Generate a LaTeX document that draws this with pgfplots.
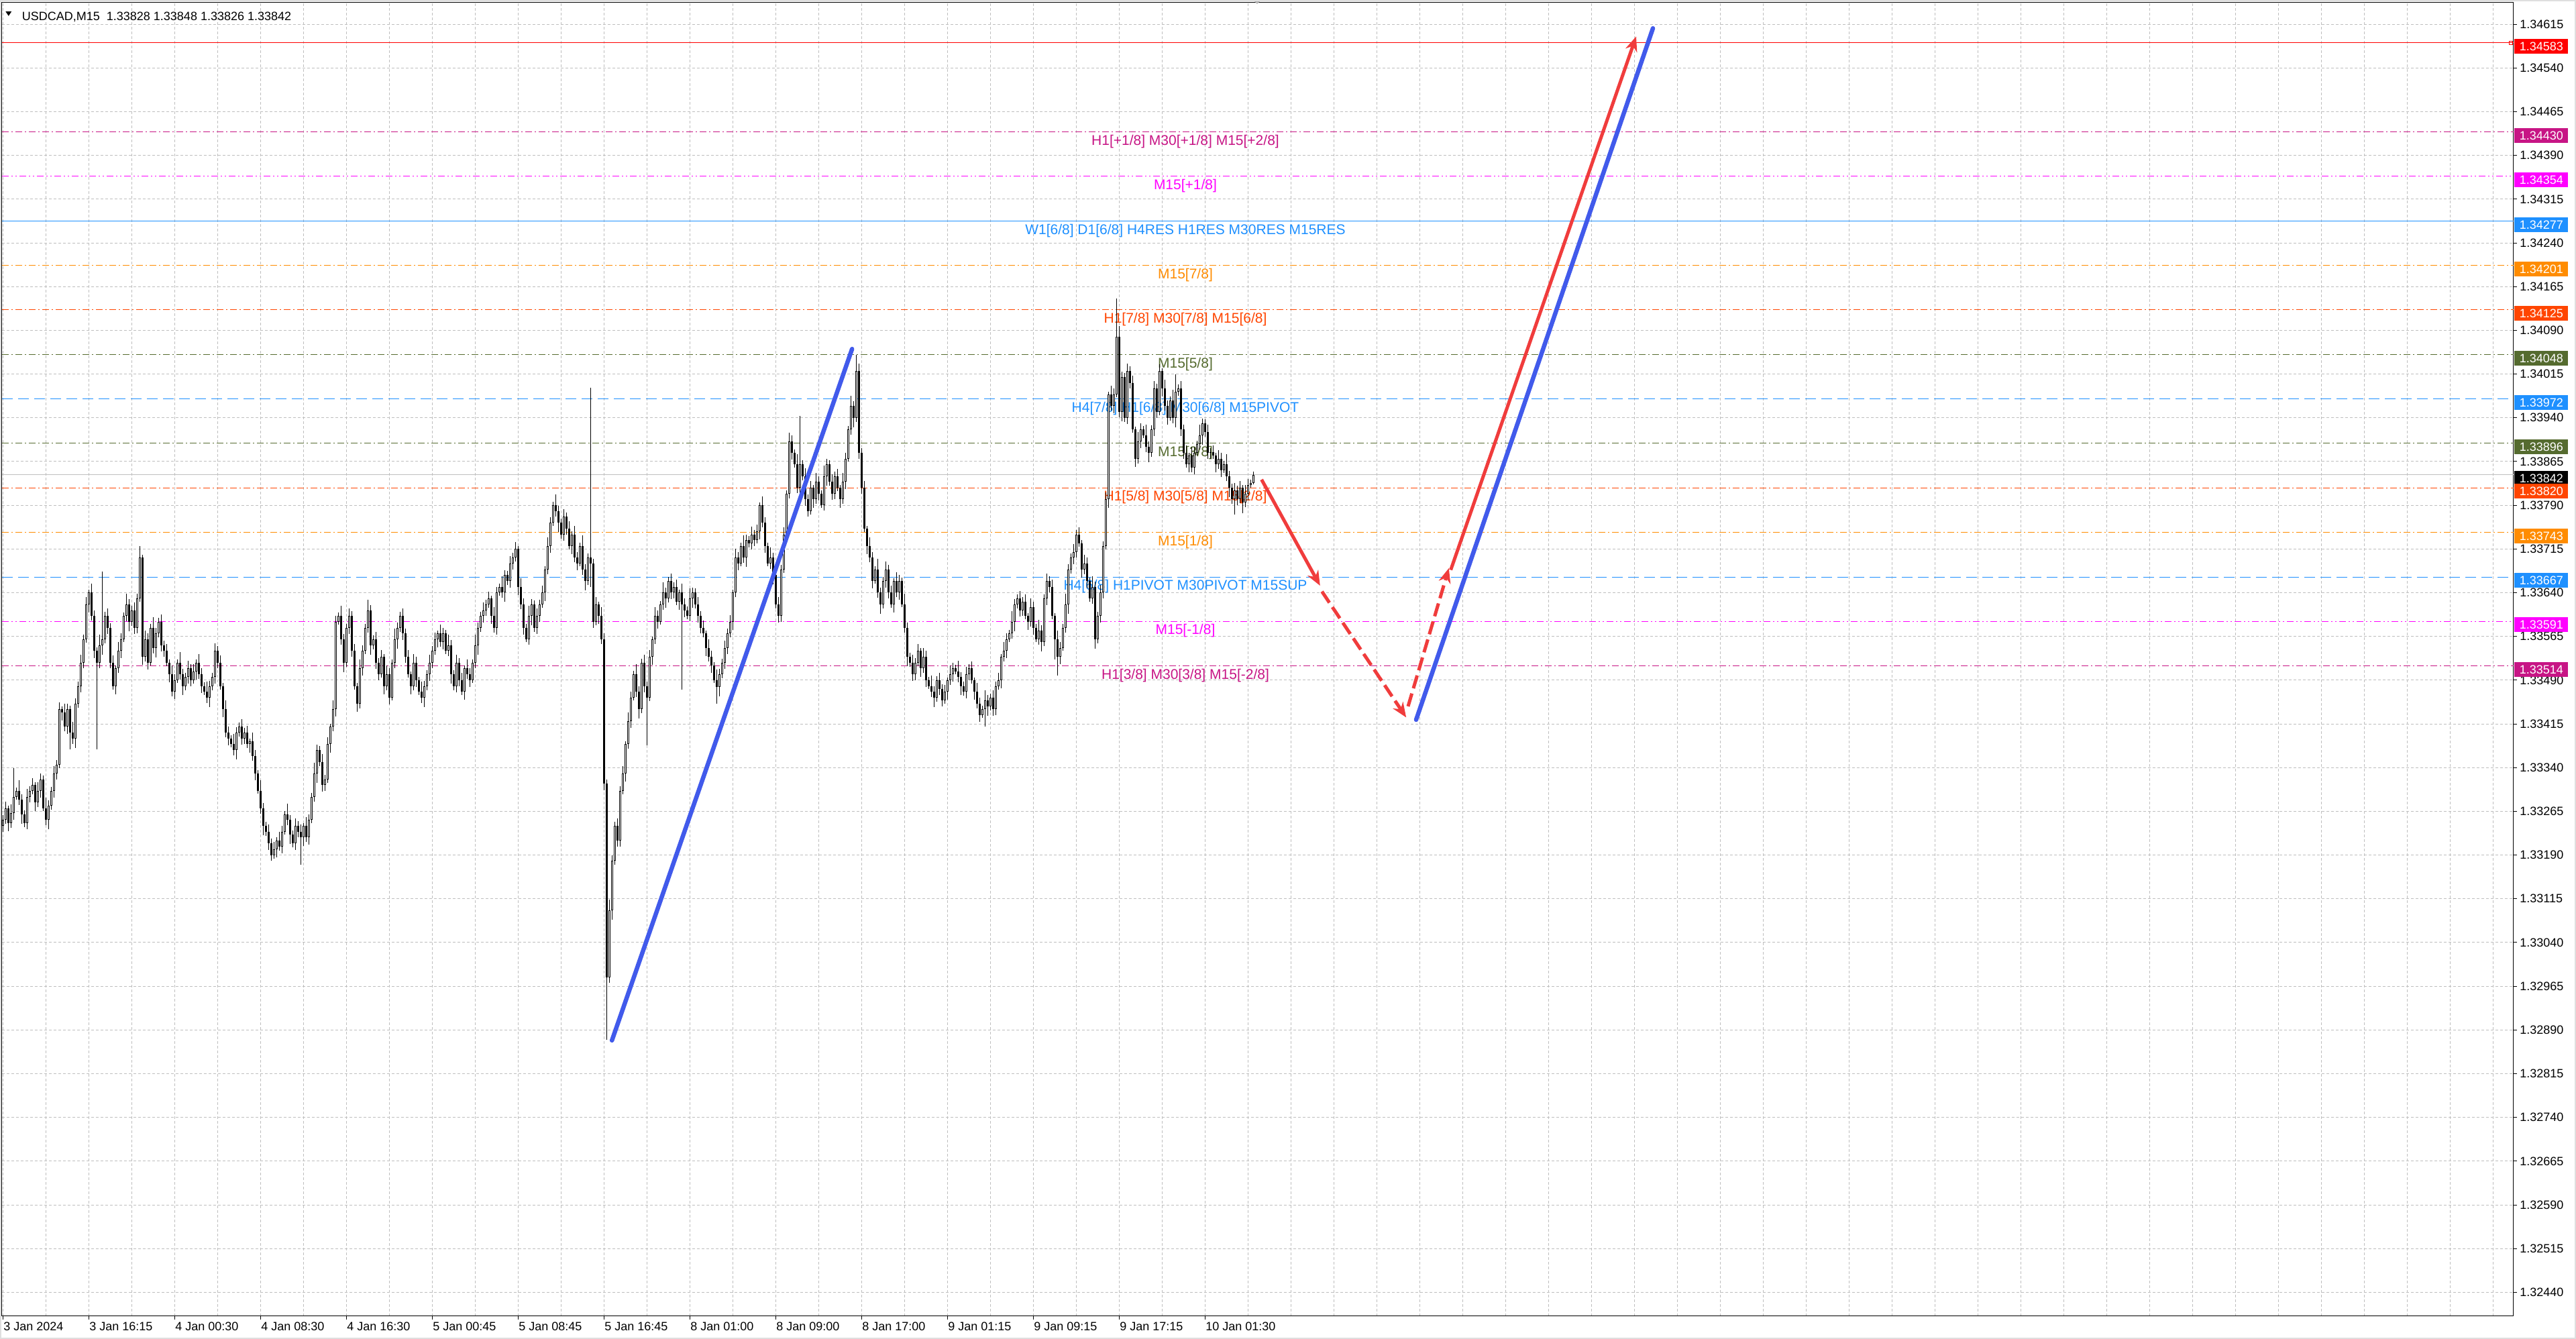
\documentclass[border=0pt]{standalone}
\usepackage{fontspec}
\setmainfont{Liberation Sans}
\usepackage{pgfplots}
\pgfplotsset{compat=1.18}
\usepackage{pgfplotstable}
\usetikzlibrary{arrows.meta}

\definecolor{lvRed}{RGB}{255,0,0}
\definecolor{lvViolet}{RGB}{199,21,133}
\definecolor{lvMagenta}{RGB}{255,0,255}
\definecolor{lvBlue}{RGB}{30,144,255}
\definecolor{lvOrange}{RGB}{255,140,0}
\definecolor{lvOrRed}{RGB}{255,69,0}
\definecolor{lvOlive}{RGB}{85,107,47}
\definecolor{gridgray}{RGB}{190,190,190}
\definecolor{curgray}{RGB}{192,192,192}
\definecolor{arrowRed}{RGB}{240,60,60}
\definecolor{arrowBlue}{RGB}{65,90,235}

% M15 bars: index, open, high, low, close
\pgfplotstableread{
i o h l c
0 1.33240 1.33258 1.33230 1.33250
1 1.33250 1.33282 1.33244 1.33270
2 1.33270 1.33275 1.33231 1.33245
3 1.33245 1.33277 1.33237 1.33262
4 1.33262 1.33339 1.33250 1.33290
5 1.33290 1.33306 1.33285 1.33300
6 1.33300 1.33318 1.33276 1.33285
7 1.33285 1.33294 1.33244 1.33260
8 1.33260 1.33267 1.33238 1.33245
9 1.33245 1.33303 1.33234 1.33290
10 1.33290 1.33308 1.33280 1.33300
11 1.33300 1.33322 1.33294 1.33310
12 1.33310 1.33315 1.33266 1.33280
13 1.33280 1.33315 1.33272 1.33300
14 1.33300 1.33330 1.33288 1.33320
15 1.33320 1.33326 1.33265 1.33270
16 1.33270 1.33288 1.33241 1.33250
17 1.33250 1.33284 1.33234 1.33275
18 1.33275 1.33307 1.33268 1.33300
19 1.33300 1.33343 1.33289 1.33330
20 1.33330 1.33353 1.33320 1.33345
21 1.33345 1.33452 1.33339 1.33440
22 1.33440 1.33445 1.33421 1.33435
23 1.33435 1.33450 1.33402 1.33410
24 1.33410 1.33450 1.33398 1.33440
25 1.33440 1.33446 1.33371 1.33400
26 1.33400 1.33418 1.33381 1.33390
27 1.33390 1.33459 1.33374 1.33450
28 1.33450 1.33487 1.33443 1.33480
29 1.33480 1.33533 1.33469 1.33520
30 1.33520 1.33568 1.33510 1.33560
31 1.33560 1.33632 1.33554 1.33620
32 1.33620 1.33645 1.33606 1.33640
33 1.33640 1.33655 1.33592 1.33600
34 1.33600 1.33610 1.33528 1.33540
35 1.33540 1.33546 1.33371 1.33520
36 1.33520 1.33568 1.33511 1.33550
37 1.33550 1.33676 1.33534 1.33560
38 1.33560 1.33607 1.33553 1.33600
39 1.33600 1.33613 1.33569 1.33580
40 1.33580 1.33588 1.33510 1.33520
41 1.33520 1.33532 1.33474 1.33480
42 1.33480 1.33515 1.33466 1.33510
43 1.33510 1.33555 1.33502 1.33540
44 1.33540 1.33570 1.33528 1.33560
45 1.33560 1.33606 1.33555 1.33600
46 1.33600 1.33638 1.33591 1.33620
47 1.33620 1.33629 1.33574 1.33590
48 1.33590 1.33617 1.33583 1.33610
49 1.33610 1.33623 1.33569 1.33580
50 1.33580 1.33638 1.33570 1.33630
51 1.33630 1.33720 1.33624 1.33700
52 1.33700 1.33705 1.33516 1.33530
53 1.33530 1.33575 1.33522 1.33560
54 1.33560 1.33570 1.33508 1.33520
55 1.33520 1.33586 1.33515 1.33580
56 1.33580 1.33598 1.33536 1.33545
57 1.33545 1.33579 1.33529 1.33570
58 1.33570 1.33597 1.33563 1.33590
59 1.33590 1.33603 1.33539 1.33550
60 1.33550 1.33558 1.33530 1.33540
61 1.33540 1.33552 1.33514 1.33520
62 1.33520 1.33525 1.33486 1.33500
63 1.33500 1.33515 1.33462 1.33470
64 1.33470 1.33500 1.33458 1.33490
65 1.33490 1.33526 1.33485 1.33520
66 1.33520 1.33538 1.33491 1.33500
67 1.33500 1.33509 1.33464 1.33480
68 1.33480 1.33502 1.33473 1.33495
69 1.33495 1.33523 1.33484 1.33510
70 1.33510 1.33518 1.33480 1.33490
71 1.33490 1.33517 1.33484 1.33505
72 1.33505 1.33525 1.33491 1.33520
73 1.33520 1.33535 1.33492 1.33500
74 1.33500 1.33510 1.33468 1.33480
75 1.33480 1.33486 1.33465 1.33470
76 1.33470 1.33488 1.33451 1.33460
77 1.33460 1.33489 1.33444 1.33480
78 1.33480 1.33502 1.33473 1.33495
79 1.33495 1.33553 1.33484 1.33540
80 1.33540 1.33548 1.33510 1.33520
81 1.33520 1.33532 1.33474 1.33480
82 1.33480 1.33485 1.33426 1.33440
83 1.33440 1.33455 1.33392 1.33400
84 1.33400 1.33410 1.33378 1.33390
85 1.33390 1.33396 1.33375 1.33380
86 1.33380 1.33398 1.33361 1.33370
87 1.33370 1.33409 1.33354 1.33400
88 1.33400 1.33417 1.33393 1.33410
89 1.33410 1.33423 1.33379 1.33390
90 1.33390 1.33408 1.33380 1.33400
91 1.33400 1.33412 1.33374 1.33380
92 1.33380 1.33390 1.33366 1.33385
93 1.33385 1.33400 1.33352 1.33360
94 1.33360 1.33370 1.33318 1.33330
95 1.33330 1.33336 1.33295 1.33300
96 1.33300 1.33318 1.33261 1.33270
97 1.33270 1.33279 1.33224 1.33240
98 1.33240 1.33247 1.33223 1.33230
99 1.33230 1.33243 1.33199 1.33210
100 1.33210 1.33218 1.33180 1.33190
101 1.33190 1.33212 1.33184 1.33200
102 1.33200 1.33220 1.33186 1.33215
103 1.33215 1.33230 1.33197 1.33205
104 1.33205 1.33240 1.33193 1.33230
105 1.33230 1.33266 1.33225 1.33260
106 1.33260 1.33278 1.33241 1.33250
107 1.33250 1.33259 1.33209 1.33225
108 1.33225 1.33232 1.33203 1.33210
109 1.33210 1.33253 1.33199 1.33240
110 1.33240 1.33248 1.33220 1.33230
111 1.33230 1.33242 1.33173 1.33220
112 1.33220 1.33245 1.33206 1.33240
113 1.33240 1.33255 1.33212 1.33220
114 1.33220 1.33260 1.33208 1.33250
115 1.33250 1.33296 1.33245 1.33290
116 1.33290 1.33348 1.33281 1.33330
117 1.33330 1.33379 1.33314 1.33370
118 1.33370 1.33377 1.33343 1.33350
119 1.33350 1.33363 1.33299 1.33310
120 1.33310 1.33328 1.33300 1.33320
121 1.33320 1.33392 1.33314 1.33380
122 1.33380 1.33415 1.33366 1.33410
123 1.33410 1.33455 1.33402 1.33440
124 1.33440 1.33600 1.33428 1.33590
125 1.33590 1.33606 1.33585 1.33600
126 1.33600 1.33618 1.33551 1.33560
127 1.33560 1.33569 1.33504 1.33520
128 1.33520 1.33587 1.33513 1.33580
129 1.33580 1.33613 1.33569 1.33600
130 1.33600 1.33608 1.33530 1.33540
131 1.33540 1.33552 1.33474 1.33480
132 1.33480 1.33485 1.33436 1.33450
133 1.33450 1.33525 1.33442 1.33510
134 1.33510 1.33550 1.33498 1.33540
135 1.33540 1.33586 1.33535 1.33580
136 1.33580 1.33628 1.33571 1.33610
137 1.33610 1.33619 1.33534 1.33550
138 1.33550 1.33567 1.33543 1.33560
139 1.33560 1.33573 1.33509 1.33520
140 1.33520 1.33528 1.33490 1.33500
141 1.33500 1.33542 1.33494 1.33530
142 1.33530 1.33535 1.33466 1.33480
143 1.33480 1.33515 1.33472 1.33500
144 1.33500 1.33510 1.33448 1.33460
145 1.33460 1.33526 1.33455 1.33520
146 1.33520 1.33578 1.33511 1.33560
147 1.33560 1.33589 1.33544 1.33580
148 1.33580 1.33607 1.33573 1.33600
149 1.33600 1.33613 1.33559 1.33570
150 1.33570 1.33578 1.33520 1.33530
151 1.33530 1.33542 1.33494 1.33500
152 1.33500 1.33505 1.33466 1.33480
153 1.33480 1.33535 1.33472 1.33520
154 1.33520 1.33530 1.33478 1.33490
155 1.33490 1.33496 1.33465 1.33470
156 1.33470 1.33488 1.33451 1.33460
157 1.33460 1.33489 1.33444 1.33480
158 1.33480 1.33507 1.33473 1.33500
159 1.33500 1.33533 1.33489 1.33520
160 1.33520 1.33548 1.33510 1.33540
161 1.33540 1.33572 1.33534 1.33560
162 1.33560 1.33575 1.33546 1.33570
163 1.33570 1.33585 1.33547 1.33555
164 1.33555 1.33580 1.33543 1.33570
165 1.33570 1.33576 1.33535 1.33540
166 1.33540 1.33568 1.33531 1.33550
167 1.33550 1.33559 1.33484 1.33500
168 1.33500 1.33507 1.33473 1.33480
169 1.33480 1.33533 1.33469 1.33520
170 1.33520 1.33528 1.33480 1.33490
171 1.33490 1.33502 1.33464 1.33470
172 1.33470 1.33515 1.33456 1.33510
173 1.33510 1.33525 1.33492 1.33500
174 1.33500 1.33510 1.33478 1.33490
175 1.33490 1.33526 1.33485 1.33520
176 1.33520 1.33568 1.33511 1.33550
177 1.33550 1.33589 1.33534 1.33580
178 1.33580 1.33607 1.33573 1.33600
179 1.33600 1.33623 1.33589 1.33610
180 1.33610 1.33628 1.33600 1.33620
181 1.33620 1.33642 1.33614 1.33630
182 1.33630 1.33635 1.33586 1.33600
183 1.33600 1.33615 1.33572 1.33580
184 1.33580 1.33650 1.33568 1.33640
185 1.33640 1.33656 1.33635 1.33650
186 1.33650 1.33668 1.33631 1.33640
187 1.33640 1.33679 1.33624 1.33670
188 1.33670 1.33677 1.33653 1.33660
189 1.33660 1.33703 1.33649 1.33690
190 1.33690 1.33708 1.33680 1.33700
191 1.33700 1.33727 1.33694 1.33715
192 1.33715 1.33720 1.33636 1.33650
193 1.33650 1.33665 1.33612 1.33620
194 1.33620 1.33630 1.33568 1.33580
195 1.33580 1.33586 1.33555 1.33560
196 1.33560 1.33618 1.33551 1.33600
197 1.33600 1.33629 1.33584 1.33620
198 1.33620 1.33627 1.33573 1.33580
199 1.33580 1.33613 1.33569 1.33600
200 1.33600 1.33628 1.33590 1.33620
201 1.33620 1.33652 1.33614 1.33640
202 1.33640 1.33685 1.33626 1.33680
203 1.33680 1.33735 1.33672 1.33720
204 1.33720 1.33770 1.33708 1.33760
205 1.33760 1.33796 1.33755 1.33790
206 1.33790 1.33808 1.33771 1.33780
207 1.33780 1.33789 1.33744 1.33760
208 1.33760 1.33767 1.33733 1.33740
209 1.33740 1.33783 1.33729 1.33770
210 1.33770 1.33778 1.33740 1.33750
211 1.33750 1.33762 1.33714 1.33720
212 1.33720 1.33745 1.33706 1.33740
213 1.33740 1.33755 1.33692 1.33700
214 1.33700 1.33710 1.33678 1.33690
215 1.33690 1.33726 1.33685 1.33720
216 1.33720 1.33738 1.33671 1.33680
217 1.33680 1.33689 1.33644 1.33660
218 1.33660 1.33707 1.33653 1.33700
219 1.33700 1.33991 1.33650 1.33690
220 1.33690 1.33698 1.33580 1.33590
221 1.33590 1.33632 1.33584 1.33620
222 1.33620 1.33625 1.33586 1.33600
223 1.33600 1.33615 1.33552 1.33560
224 1.33560 1.33570 1.33301 1.33313
225 1.33313 1.33319 1.32873 1.32980
226 1.32980 1.33113 1.32971 1.33095
227 1.33095 1.33189 1.33079 1.33180
228 1.33180 1.33247 1.33173 1.33240
229 1.33240 1.33253 1.33204 1.33215
230 1.33215 1.33308 1.33205 1.33300
231 1.33300 1.33342 1.33294 1.33330
232 1.33330 1.33385 1.33316 1.33380
233 1.33380 1.33435 1.33372 1.33420
234 1.33420 1.33470 1.33408 1.33460
235 1.33460 1.33506 1.33455 1.33500
236 1.33500 1.33518 1.33461 1.33470
237 1.33470 1.33479 1.33424 1.33440
238 1.33440 1.33527 1.33433 1.33520
239 1.33520 1.33533 1.33469 1.33480
240 1.33480 1.33488 1.33378 1.33460
241 1.33460 1.33542 1.33454 1.33530
242 1.33530 1.33565 1.33516 1.33560
243 1.33560 1.33615 1.33552 1.33600
244 1.33600 1.33610 1.33578 1.33590
245 1.33590 1.33626 1.33585 1.33620
246 1.33620 1.33658 1.33611 1.33640
247 1.33640 1.33649 1.33614 1.33630
248 1.33630 1.33667 1.33623 1.33660
249 1.33660 1.33673 1.33629 1.33640
250 1.33640 1.33658 1.33630 1.33650
251 1.33650 1.33662 1.33619 1.33625
252 1.33625 1.33645 1.33611 1.33640
253 1.33640 1.33655 1.33474 1.33620
254 1.33620 1.33630 1.33598 1.33610
255 1.33610 1.33616 1.33595 1.33600
256 1.33600 1.33648 1.33591 1.33630
257 1.33630 1.33649 1.33614 1.33640
258 1.33640 1.33647 1.33613 1.33620
259 1.33620 1.33633 1.33589 1.33600
260 1.33600 1.33608 1.33570 1.33580
261 1.33580 1.33592 1.33564 1.33570
262 1.33570 1.33575 1.33531 1.33545
263 1.33545 1.33560 1.33522 1.33530
264 1.33530 1.33540 1.33503 1.33515
265 1.33515 1.33521 1.33485 1.33490
266 1.33490 1.33508 1.33450 1.33478
267 1.33478 1.33509 1.33462 1.33500
268 1.33500 1.33527 1.33493 1.33520
269 1.33520 1.33558 1.33509 1.33545
270 1.33545 1.33578 1.33535 1.33570
271 1.33570 1.33602 1.33564 1.33590
272 1.33590 1.33645 1.33576 1.33640
273 1.33640 1.33715 1.33632 1.33700
274 1.33700 1.33710 1.33678 1.33690
275 1.33690 1.33726 1.33685 1.33720
276 1.33720 1.33738 1.33691 1.33700
277 1.33700 1.33739 1.33684 1.33730
278 1.33730 1.33737 1.33718 1.33725
279 1.33725 1.33753 1.33714 1.33740
280 1.33740 1.33748 1.33720 1.33730
281 1.33730 1.33757 1.33724 1.33745
282 1.33745 1.33795 1.33731 1.33790
283 1.33790 1.33805 1.33752 1.33760
284 1.33760 1.33770 1.33708 1.33720
285 1.33720 1.33726 1.33685 1.33690
286 1.33690 1.33718 1.33681 1.33700
287 1.33700 1.33709 1.33654 1.33670
288 1.33670 1.33677 1.33613 1.33620
289 1.33620 1.33633 1.33589 1.33600
290 1.33600 1.33688 1.33590 1.33680
291 1.33680 1.33752 1.33674 1.33740
292 1.33740 1.33815 1.33726 1.33810
293 1.33810 1.33915 1.33802 1.33900
294 1.33900 1.33910 1.33868 1.33880
295 1.33880 1.33886 1.33855 1.33860
296 1.33860 1.33878 1.33811 1.33820
297 1.33820 1.33943 1.33804 1.33860
298 1.33860 1.33867 1.33833 1.33840
299 1.33840 1.33853 1.33789 1.33800
300 1.33800 1.33808 1.33770 1.33780
301 1.33780 1.33832 1.33774 1.33820
302 1.33820 1.33825 1.33786 1.33800
303 1.33800 1.33845 1.33792 1.33830
304 1.33830 1.33840 1.33798 1.33810
305 1.33810 1.33816 1.33785 1.33790
306 1.33790 1.33858 1.33781 1.33840
307 1.33840 1.33869 1.33824 1.33860
308 1.33860 1.33867 1.33823 1.33830
309 1.33830 1.33843 1.33799 1.33810
310 1.33810 1.33848 1.33800 1.33840
311 1.33840 1.33852 1.33814 1.33820
312 1.33820 1.33825 1.33786 1.33800
313 1.33800 1.33845 1.33792 1.33830
314 1.33830 1.33880 1.33818 1.33870
315 1.33870 1.33926 1.33865 1.33920
316 1.33920 1.33978 1.33911 1.33960
317 1.33960 1.33969 1.33924 1.33940
318 1.33940 1.34048 1.33933 1.34020
319 1.34020 1.34033 1.33869 1.33880
320 1.33880 1.33888 1.33810 1.33820
321 1.33820 1.33832 1.33744 1.33750
322 1.33750 1.33755 1.33706 1.33720
323 1.33720 1.33735 1.33692 1.33700
324 1.33700 1.33710 1.33648 1.33660
325 1.33660 1.33686 1.33655 1.33680
326 1.33680 1.33698 1.33631 1.33640
327 1.33640 1.33649 1.33604 1.33620
328 1.33620 1.33667 1.33613 1.33660
329 1.33660 1.33693 1.33649 1.33680
330 1.33680 1.33688 1.33630 1.33640
331 1.33640 1.33652 1.33614 1.33620
332 1.33620 1.33665 1.33606 1.33660
333 1.33660 1.33675 1.33632 1.33640
334 1.33640 1.33670 1.33628 1.33660
335 1.33660 1.33666 1.33615 1.33620
336 1.33620 1.33638 1.33571 1.33580
337 1.33580 1.33589 1.33514 1.33530
338 1.33530 1.33537 1.33513 1.33520
339 1.33520 1.33533 1.33489 1.33500
340 1.33500 1.33528 1.33490 1.33520
341 1.33520 1.33552 1.33514 1.33540
342 1.33540 1.33545 1.33496 1.33510
343 1.33510 1.33545 1.33502 1.33530
344 1.33530 1.33540 1.33478 1.33490
345 1.33490 1.33496 1.33475 1.33480
346 1.33480 1.33498 1.33461 1.33470
347 1.33470 1.33479 1.33444 1.33460
348 1.33460 1.33497 1.33453 1.33490
349 1.33490 1.33503 1.33464 1.33475
350 1.33475 1.33483 1.33445 1.33455
351 1.33455 1.33482 1.33449 1.33470
352 1.33470 1.33495 1.33456 1.33490
353 1.33490 1.33515 1.33482 1.33500
354 1.33500 1.33520 1.33488 1.33510
355 1.33510 1.33516 1.33500 1.33505
356 1.33505 1.33523 1.33486 1.33495
357 1.33495 1.33504 1.33464 1.33480
358 1.33480 1.33487 1.33463 1.33470
359 1.33470 1.33513 1.33459 1.33500
360 1.33500 1.33518 1.33490 1.33510
361 1.33510 1.33522 1.33484 1.33490
362 1.33490 1.33495 1.33456 1.33470
363 1.33470 1.33485 1.33442 1.33450
364 1.33450 1.33460 1.33418 1.33430
365 1.33430 1.33446 1.33425 1.33440
366 1.33440 1.33473 1.33410 1.33455
367 1.33455 1.33464 1.33429 1.33445
368 1.33445 1.33467 1.33438 1.33460
369 1.33460 1.33473 1.33429 1.33440
370 1.33440 1.33488 1.33430 1.33480
371 1.33480 1.33502 1.33474 1.33490
372 1.33490 1.33535 1.33476 1.33530
373 1.33530 1.33555 1.33522 1.33540
374 1.33540 1.33570 1.33528 1.33560
375 1.33560 1.33576 1.33555 1.33570
376 1.33570 1.33608 1.33561 1.33590
377 1.33590 1.33629 1.33574 1.33620
378 1.33620 1.33637 1.33613 1.33630
379 1.33630 1.33643 1.33599 1.33610
380 1.33610 1.33633 1.33600 1.33625
381 1.33625 1.33637 1.33594 1.33600
382 1.33600 1.33605 1.33576 1.33590
383 1.33590 1.33630 1.33582 1.33615
384 1.33615 1.33625 1.33568 1.33580
385 1.33580 1.33586 1.33555 1.33560
386 1.33560 1.33593 1.33551 1.33575
387 1.33575 1.33584 1.33539 1.33555
388 1.33555 1.33637 1.33548 1.33630
389 1.33630 1.33673 1.33619 1.33660
390 1.33660 1.33668 1.33640 1.33650
391 1.33650 1.33662 1.33594 1.33600
392 1.33600 1.33605 1.33526 1.33560
393 1.33560 1.33575 1.33498 1.33530
394 1.33530 1.33555 1.33518 1.33545
395 1.33545 1.33586 1.33540 1.33580
396 1.33580 1.33638 1.33571 1.33620
397 1.33620 1.33689 1.33604 1.33680
398 1.33680 1.33707 1.33673 1.33700
399 1.33700 1.33723 1.33689 1.33710
400 1.33710 1.33748 1.33700 1.33740
401 1.33740 1.33752 1.33719 1.33725
402 1.33725 1.33730 1.33666 1.33680
403 1.33680 1.33705 1.33672 1.33690
404 1.33690 1.33700 1.33648 1.33660
405 1.33660 1.33666 1.33625 1.33630
406 1.33630 1.33668 1.33621 1.33650
407 1.33650 1.33659 1.33544 1.33560
408 1.33560 1.33607 1.33553 1.33600
409 1.33600 1.33653 1.33589 1.33640
410 1.33640 1.33728 1.33630 1.33720
411 1.33720 1.33812 1.33714 1.33800
412 1.33800 1.33985 1.33786 1.33980
413 1.33980 1.33995 1.33952 1.33960
414 1.33960 1.33990 1.33948 1.33980
415 1.33980 1.34145 1.33975 1.34079
416 1.34079 1.34097 1.33941 1.33950
417 1.33950 1.34019 1.33934 1.34010
418 1.34010 1.34017 1.33933 1.33940
419 1.33940 1.34033 1.33929 1.34020
420 1.34020 1.34028 1.33990 1.34000
421 1.34000 1.34012 1.33914 1.33920
422 1.33920 1.33925 1.33856 1.33870
423 1.33870 1.33915 1.33862 1.33900
424 1.33900 1.33930 1.33888 1.33920
425 1.33920 1.33926 1.33905 1.33910
426 1.33910 1.33928 1.33881 1.33890
427 1.33890 1.33899 1.33864 1.33880
428 1.33880 1.33927 1.33873 1.33920
429 1.33920 1.34003 1.33909 1.33990
430 1.33990 1.33998 1.33940 1.33950
431 1.33950 1.34032 1.33944 1.34020
432 1.34020 1.34025 1.33976 1.33990
433 1.33990 1.34005 1.33952 1.33960
434 1.33960 1.33970 1.33928 1.33940
435 1.33940 1.33976 1.33935 1.33970
436 1.33970 1.33988 1.33931 1.33940
437 1.33940 1.34015 1.33924 1.33985
438 1.33985 1.33997 1.33978 1.33990
439 1.33990 1.34003 1.33909 1.33920
440 1.33920 1.33928 1.33870 1.33880
441 1.33880 1.33892 1.33854 1.33860
442 1.33860 1.33880 1.33846 1.33875
443 1.33875 1.33890 1.33847 1.33855
444 1.33855 1.33890 1.33843 1.33880
445 1.33880 1.33901 1.33875 1.33895
446 1.33895 1.33928 1.33886 1.33910
447 1.33910 1.33939 1.33894 1.33930
448 1.33930 1.33937 1.33908 1.33915
449 1.33915 1.33928 1.33869 1.33880
450 1.33880 1.33888 1.33870 1.33881
451 1.33881 1.33892 1.33869 1.33875
452 1.33875 1.33880 1.33846 1.33860
453 1.33860 1.33885 1.33852 1.33870
454 1.33870 1.33880 1.33838 1.33850
455 1.33850 1.33866 1.33845 1.33860
456 1.33860 1.33878 1.33831 1.33840
457 1.33840 1.33849 1.33804 1.33820
458 1.33820 1.33827 1.33793 1.33800
459 1.33800 1.33828 1.33774 1.33815
460 1.33815 1.33823 1.33790 1.33800
461 1.33800 1.33832 1.33794 1.33820
462 1.33820 1.33825 1.33776 1.33795
463 1.33795 1.33825 1.33787 1.33810
464 1.33810 1.33835 1.33798 1.33825
465 1.33825 1.33834 1.33820 1.33828
466 1.33828 1.33848 1.33826 1.33842
}\bars

\tikzset{
  lvl/.style={line width=0.5pt},
  dashdot/.style={dash pattern=on 5pt off 2pt on 1pt off 2pt},
  dashdotdot/.style={dash pattern=on 5pt off 2pt on 1pt off 2pt on 1pt off 2pt},
  longdash/.style={dash pattern=on 8pt off 4pt},
  lvtext/.style={anchor=base, inner sep=0pt, font=\fontsize{10.5}{12}\selectfont, yshift=-9.75pt},
  pricebox/.style={anchor=west, xshift=0.5pt, yshift=-2.5pt, inner sep=0pt, minimum width=40pt, minimum height=11pt, text=white, font=\fontsize{9}{10}\selectfont}
}

\begin{document}
\begin{tikzpicture}
\fill[white] (0,0) rectangle (1920pt,998pt);
\begin{axis}[
  at={(1.5pt,17pt)}, anchor=south west,
  scale only axis, width=1872pt, height=979pt,
  xmin=-0.5, xmax=935.5,
  ymin=1.32399, ymax=1.34652,
  clip mode=individual,
  axis line style={black, line width=0.5pt},
  tick style={black, line width=0.5pt},
  tick align=outside,
  major tick length=2.5pt,
  minor tick length=0pt,
  xtick pos=left, ytick pos=right,
  yticklabel pos=right,
  xtick={0,32,...,448},
  xticklabels={3 Jan 2024, 3 Jan 16:15, 4 Jan 00:30, 4 Jan 08:30, 4 Jan 16:30, 5 Jan 00:45, 5 Jan 08:45, 5 Jan 16:45, 8 Jan 01:00, 8 Jan 09:00, 8 Jan 17:00, 9 Jan 01:15, 9 Jan 09:15, 9 Jan 17:15, 10 Jan 01:30},
  minor xtick={16,32,...,928},
  ytick={1.32440,1.32515,1.32590,1.32665,1.32740,1.32815,1.32890,1.32965,1.33040,1.33115,1.33190,1.33265,1.33340,1.33415,1.33490,1.33565,1.33640,1.33715,1.33790,1.33865,1.33940,1.34015,1.34090,1.34165,1.34240,1.34315,1.34390,1.34465,1.34540,1.34615},
  yticklabels={1.32440,1.32515,1.32590,1.32665,1.32740,1.32815,1.32890,1.32965,1.33040,1.33115,1.33190,1.33265,1.33340,1.33415,1.33490,1.33565,1.33640,1.33715,1.33790,1.33865,1.33940,1.34015,1.34090,1.34165,1.34240,1.34315,1.34390,1.34465,1.34540,1.34615},
  xticklabel style={anchor=north west, inner sep=0pt, yshift=-2pt, font=\fontsize{9}{10}\selectfont},
  yticklabel style={anchor=west, inner sep=0pt, xshift=2pt, font=\fontsize{9}{10}\selectfont},
  grid=both,
  major grid style={gridgray, line width=0.5pt, dash pattern=on 2pt off 1.5pt},
  minor grid style={gridgray, line width=0.5pt, dash pattern=on 2pt off 1.5pt},
]

% level lines
\addplot[lvl, lvRed] coordinates {(-0.5,1.34583) (935.5,1.34583)};
\addplot[lvl, lvRed, only marks, mark=square, mark size=1.2pt] coordinates {(934.5,1.34583)};
\addplot[lvl, lvViolet, dashdot] coordinates {(-0.5,1.34430) (935.5,1.34430)};
\addplot[lvl, lvMagenta, dashdotdot] coordinates {(-0.5,1.34354) (935.5,1.34354)};
\addplot[lvl, lvBlue] coordinates {(-0.5,1.34277) (935.5,1.34277)};
\addplot[lvl, lvOrange, dashdot] coordinates {(-0.5,1.34201) (935.5,1.34201)};
\addplot[lvl, lvOrRed, dashdot] coordinates {(-0.5,1.34125) (935.5,1.34125)};
\addplot[lvl, lvOlive, dashdot] coordinates {(-0.5,1.34048) (935.5,1.34048)};
\addplot[lvl, lvBlue, longdash] coordinates {(-0.5,1.33972) (935.5,1.33972)};
\addplot[lvl, lvOlive, dashdot] coordinates {(-0.5,1.33896) (935.5,1.33896)};
\addplot[lvl, curgray] coordinates {(-0.5,1.33842) (935.5,1.33842)};
\addplot[lvl, lvOrRed, dashdot] coordinates {(-0.5,1.33820) (935.5,1.33820)};
\addplot[lvl, lvOrange, dashdot] coordinates {(-0.5,1.33743) (935.5,1.33743)};
\addplot[lvl, lvBlue, longdash] coordinates {(-0.5,1.33667) (935.5,1.33667)};
\addplot[lvl, lvMagenta, dashdotdot] coordinates {(-0.5,1.33591) (935.5,1.33591)};
\addplot[lvl, lvViolet, dashdot] coordinates {(-0.5,1.33514) (935.5,1.33514)};

% level captions
\node[lvtext, text=lvViolet] at (axis cs:440.5,1.34430) {H1[+1/8] M30[+1/8] M15[+2/8]};
\node[lvtext, text=lvMagenta] at (axis cs:440.5,1.34354) {M15[+1/8]};
\node[lvtext, text=lvBlue] at (axis cs:440.5,1.34277) {W1[6/8] D1[6/8] H4RES H1RES M30RES M15RES};
\node[lvtext, text=lvOrange] at (axis cs:440.5,1.34201) {M15[7/8]};
\node[lvtext, text=lvOrRed] at (axis cs:440.5,1.34125) {H1[7/8] M30[7/8] M15[6/8]};
\node[lvtext, text=lvOlive] at (axis cs:440.5,1.34048) {M15[5/8]};
\node[lvtext, text=lvBlue] at (axis cs:440.5,1.33972) {H4[7/8] H1[6/8] M30[6/8] M15PIVOT};
\node[lvtext, text=lvOlive] at (axis cs:440.5,1.33896) {M15[3/8]};
\node[lvtext, text=lvOrRed] at (axis cs:440.5,1.33820) {H1[5/8] M30[5/8] M15[2/8]};
\node[lvtext, text=lvOrange] at (axis cs:440.5,1.33743) {M15[1/8]};
\node[lvtext, text=lvBlue] at (axis cs:440.5,1.33667) {H4[6/8] H1PIVOT M30PIVOT M15SUP};
\node[lvtext, text=lvMagenta] at (axis cs:440.5,1.33591) {M15[-1/8]};
\node[lvtext, text=lvViolet] at (axis cs:440.5,1.33514) {H1[3/8] M30[3/8] M15[-2/8]};

% candles: wicks, bodies, hollow up-bodies
\addplot[black, line width=0.5pt, quiver={u=0, v=\thisrow{h}-\thisrow{l}}] table[x=i, y=l] {\bars};
\addplot[black, line width=1.5pt, quiver={u=0, v=\thisrow{c}-\thisrow{o}}] table[x=i, y=o] {\bars};
\addplot[white, line width=0.5pt,
  quiver={u=0, v=\thisrow{c}-\thisrow{o}, every arrow/.append style={shorten <=0.5pt, shorten >=0.5pt}},
  x filter/.expression={\thisrow{c}>\thisrow{o} ? x : nan}, unbounded coords=discard]
  table[x=i, y=o] {\bars};

% trend lines and forecast arrows
\addplot[arrowBlue, line width=3.25pt, line cap=round] coordinates {(226.8,1.32872) (316.3,1.34058)};
\addplot[arrowBlue, line width=3.25pt, line cap=round] coordinates {(526.5,1.33422) (614.75,1.34608)};
\addplot[arrowRed, line width=2.5pt, -{Stealth[length=11pt, width=9pt]}] coordinates {(468.9,1.33834) (490.7,1.33652)};
\addplot[arrowRed, line width=2.5pt, dash pattern=on 10pt off 4pt, -{Stealth[length=11pt, width=9pt]}] coordinates {(491.4,1.33642) (522.8,1.33426)};
\addplot[arrowRed, line width=2.5pt, dash pattern=on 10pt off 4pt, -{Stealth[length=11pt, width=9pt]}] coordinates {(523.5,1.33445) (538.7,1.33682)};
\addplot[arrowRed, line width=2.5pt, -{Stealth[length=11pt, width=9pt]}] coordinates {(539.4,1.33679) (608.5,1.34594)};

% anchors for the price boxes
\coordinate (p1) at (axis cs:935.5,1.34583);
\coordinate (p2) at (axis cs:935.5,1.34430);
\coordinate (p3) at (axis cs:935.5,1.34354);
\coordinate (p4) at (axis cs:935.5,1.34277);
\coordinate (p5) at (axis cs:935.5,1.34201);
\coordinate (p6) at (axis cs:935.5,1.34125);
\coordinate (p7) at (axis cs:935.5,1.34048);
\coordinate (p8) at (axis cs:935.5,1.33972);
\coordinate (p9) at (axis cs:935.5,1.33896);
\coordinate (p10) at (axis cs:935.5,1.33842);
\coordinate (p11) at (axis cs:935.5,1.33820);
\coordinate (p12) at (axis cs:935.5,1.33743);
\coordinate (p13) at (axis cs:935.5,1.33667);
\coordinate (p14) at (axis cs:935.5,1.33591);
\coordinate (p15) at (axis cs:935.5,1.33514);
\end{axis}

\node[pricebox, fill=lvRed] at (p1) {1.34583};
\node[pricebox, fill=lvViolet] at (p2) {1.34430};
\node[pricebox, fill=lvMagenta] at (p3) {1.34354};
\node[pricebox, fill=lvBlue] at (p4) {1.34277};
\node[pricebox, fill=lvOrange] at (p5) {1.34201};
\node[pricebox, fill=lvOrRed] at (p6) {1.34125};
\node[pricebox, fill=lvOlive] at (p7) {1.34048};
\node[pricebox, fill=lvBlue] at (p8) {1.33972};
\node[pricebox, fill=lvOlive] at (p9) {1.33896};
\node[pricebox, fill=black] at (p10) {1.33842};
\node[pricebox, fill=lvOrRed] at (p11) {1.33820};
\node[pricebox, fill=lvOrange] at (p12) {1.33743};
\node[pricebox, fill=lvBlue] at (p13) {1.33667};
\node[pricebox, fill=lvMagenta] at (p14) {1.33591};
\node[pricebox, fill=lvViolet] at (p15) {1.33514};

% chart caption
\fill[black] (4.2pt,989.4pt) -- (8.6pt,989.4pt) -- (6.4pt,986.1pt) -- cycle;
\node[anchor=base west, inner sep=0pt, font=\fontsize{9}{10}\selectfont] at (16.25pt,982.7pt) {USDCAD,M15\ \ 1.33828 1.33848 1.33826 1.33842};
\fill[gray!60] (934pt,998pt) -- (940pt,998pt) -- (937pt,995pt) -- cycle;
\draw[gray!25, line width=1pt] (0.5pt,0.5pt) rectangle (1919.5pt,997.5pt);

\pgfresetboundingbox
\path[use as bounding box] (0,0) rectangle (1920pt,998pt);
\end{tikzpicture}
\end{document}
